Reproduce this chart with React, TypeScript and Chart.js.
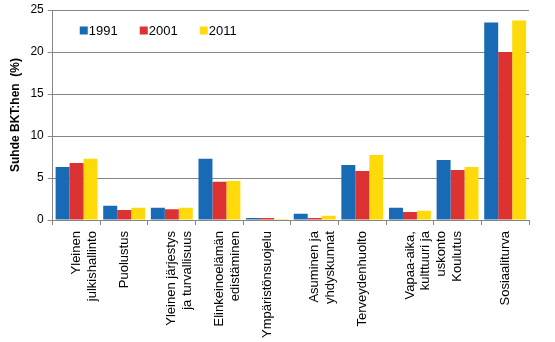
import React, { useEffect, useRef } from "react";
import { Chart, registerables } from "chart.js";

Chart.register(...registerables);

const categories: string[][] = [
  ["Yleinen", "julkishallinto"],
  ["Puolustus"],
  ["Yleinen järjestys", "ja turvallisuus"],
  ["Elinkeinoelämän", "edistäminen"],
  ["Ympäristönsuojelu"],
  ["Asuminen ja", "yhdyskunnat"],
  ["Terveydenhuolto"],
  ["Vapaa-aika,", "kulttuuri ja", "uskonto"],
  ["Koulutus"],
  ["Sosiaaliturva"],
];

const values1991 = [6.3, 1.7, 1.45, 7.3, 0.25, 0.75, 6.55, 1.45, 7.15, 23.5];
const values2001 = [6.8, 1.2, 1.3, 4.55, 0.25, 0.25, 5.85, 0.95, 5.95, 20.0];
const values2011 = [7.3, 1.45, 1.45, 4.65, 0.12, 0.5, 7.75, 1.1, 6.3, 23.75];

const seriesNames = ["1991", "2001", "2011"];
const seriesColors = ["#176AB3", "#DC3232", "#FFDA0A"];
const yTitle = "Suhde BKT:hen  (%)";

const FONT = "'Liberation Sans', Arial, sans-serif";

const legendPlugin = {
  id: "insideLegend",
  afterDraw(chart: any) {
    const ctx = chart.ctx;
    const area = chart.chartArea;
    ctx.save();
    ctx.font = `13px ${FONT}`;
    ctx.textBaseline = "middle";
    ctx.textAlign = "left";
    chart.data.datasets.forEach((ds: any, i: number) => {
      const x = area.left + 27 + i * 60;
      const y = area.top + 20.5;
      ctx.fillStyle = ds.backgroundColor;
      ctx.fillRect(x, y - 4, 8, 8);
      ctx.fillStyle = "#000";
      ctx.fillText(ds.label, x + 9, y + 0.5);
    });
    ctx.restore();
  },
};

export default function App() {
  const ref = useRef<HTMLCanvasElement | null>(null);
  useEffect(() => {
    document.body.style.margin = "0";
    const canvas = ref.current!;
    const chart = new Chart(canvas, {
      type: "bar",
      data: {
        labels: categories,
        datasets: [values1991, values2001, values2011].map((d, i) => ({
          label: seriesNames[i],
          data: d,
          backgroundColor: seriesColors[i],
          borderWidth: 0,
          categoryPercentage: 0.88,
          barPercentage: 1.0,
        })),
      },
      options: {
        animation: false,
        responsive: false,
        maintainAspectRatio: false,
        layout: { padding: { top: 0, right: 26, left: 8, bottom: -2 } },
        plugins: {
          legend: { display: false },
          tooltip: { enabled: false },
        },
        scales: {
          x: {
            grid: {
              offset: true,
              drawOnChartArea: false,
              color: "#868686",
              tickLength: 5,
            },
            border: { color: "#868686", width: 1 },
            ticks: {
              color: "#000",
              font: { family: FONT, size: 13 },
              minRotation: 90,
              maxRotation: 90,
              padding: 6,
              autoSkip: false,
            },
          },
          y: {
            min: 0,
            max: 25,
            ticks: {
              stepSize: 5,
              color: "#000",
              font: { family: FONT, size: 12, lineHeight: 1.0 },
              padding: 4,
            },
            grid: { color: "#868686", tickLength: 5, lineWidth: 1 },
            border: { color: "#868686", width: 1 },
            title: {
              display: true,
              text: yTitle,
              color: "#000",
              font: { family: FONT, size: 12, weight: "bold" },
              padding: { top: 0, bottom: 4 },
            },
          },
        },
      },
      plugins: [legendPlugin],
    });
    return () => chart.destroy();
  }, []);
  return (
    <div style={{ width: 555, height: 342 }}>
      <canvas ref={ref} width={555} height={342} style={{ display: "block" }} />
    </div>
  );
}
